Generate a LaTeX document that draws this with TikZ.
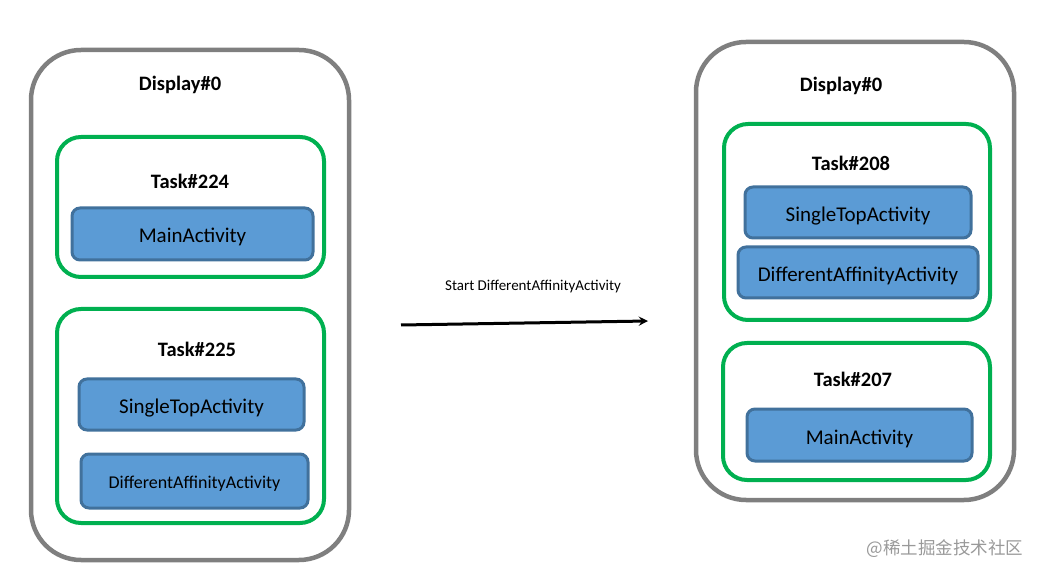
\documentclass[tikz,border=0pt]{standalone}
\usepackage{fontspec}
\setmainfont{Carlito}
\newfontfamily\cjk{Noto Sans CJK SC}
\usepackage{tikz}
\usetikzlibrary{positioning}
\usetikzlibrary{shapes.geometric, arrows}
\definecolor{dispgray}{HTML}{7F7F7F}
\definecolor{taskgreen}{HTML}{00B050}
\definecolor{actfill}{HTML}{5B9BD5}
\definecolor{actline}{HTML}{41719C}
\tikzstyle{arrow} = [line width=3pt,->,>=stealth]
\tikzstyle{display} = [draw=dispgray,line width=4.5pt,rounded corners=50pt]
\tikzstyle{task} = [draw=taskgreen,line width=4pt,rounded corners=24pt]
\tikzstyle{act} = [draw=actline,fill=actfill,line width=3pt,rounded corners=8pt,text height=22pt,text depth=4pt,font=\fontsize{21}{23}\selectfont]
\tikzstyle{title} = [font=\bfseries\fontsize{20.5}{22}\selectfont]

\begin{document}
\begin{tikzpicture}[x=1pt,y=-1pt]
	\useasboundingbox (0,0) rectangle (1042,577);
	% left side
	\node[display,minimum width=318pt,minimum height=510pt] (disp l) at (190,305) {};
	\node[title] (disp l title) at (180,85) {Display\#0};
	\node[task,minimum width=267pt,minimum height=140pt] (task a) at (190.5,207) {};
	\node[title] (task a title) at (190,181) {Task\#224};
	\node[act,minimum width=241pt,minimum height=52pt] (main l) at (192.5,234) {MainActivity};
	\node[task,minimum width=267pt,minimum height=214pt] (task b) at (190.5,416) {};
	\node[title] (task b title) at (197,349) {Task\#225};
	\node[act,minimum width=225pt,minimum height=51pt] (single l) at (191.5,404.5) {SingleTopActivity};
	\node[act,minimum width=227pt,minimum height=54pt,text height=19pt,font=\fontsize{18}{20}\selectfont] (diff l) at (194.5,481) {DifferentAffinityActivity};
	% transition
	\coordinate (from) at (401,325);
	\coordinate (to) at (648,321);
	\node[font=\fontsize{15}{17}\selectfont] (start) at (533,287) {Start DifferentAffinityActivity};
	\draw[arrow] (from) -- (to);
	% right side
	\node[display,minimum width=318pt,minimum height=458pt] (disp r) at (855,271) {};
	\node[title] (disp r title) at (841,86) {Display\#0};
	\node[task,minimum width=266pt,minimum height=196pt] (task c) at (857,222) {};
	\node[title] (task c title) at (851,163) {Task\#208};
	\node[act,minimum width=226pt,minimum height=51pt] (single r) at (858,212.5) {SingleTopActivity};
	\node[act,minimum width=240pt,minimum height=51pt] (diff r) at (858,272.5) {DifferentAffinityActivity};
	\node[task,minimum width=267pt,minimum height=137pt] (task d) at (856.5,411.5) {};
	\node[title] (task d title) at (853,379) {Task\#207};
	\node[act,minimum width=225pt,minimum height=52pt] (main r) at (859.5,435) {MainActivity};
	% watermark
	\node[text=black!40,font=\cjk\fontsize{17.5}{19}\selectfont] (mark) at (945,549) {@稀土掘金技术社区};
\end{tikzpicture}
\end{document}
